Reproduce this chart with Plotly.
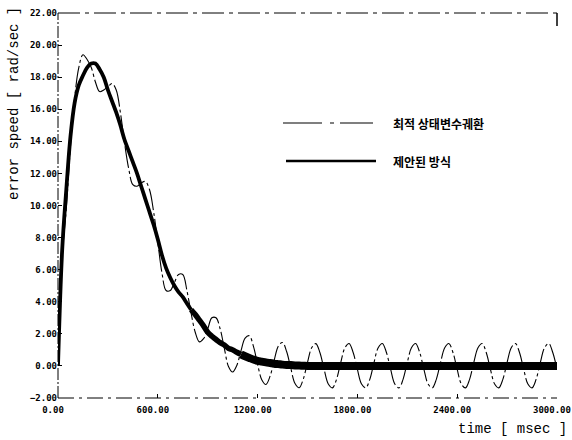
import plotly.graph_objects as go

# time axis (msec), 25 ms grid
time_ms = [i * 25 for i in range(121)]

# 제안된 방식 (proposed method) - smooth response
proposed = [
    0.0, 7.2, 11.0, 14.3, 16.4, 17.5, 18.1, 18.6, 18.85, 18.85,
    18.5, 18.0, 17.2, 16.5, 15.8, 15.0, 14.1, 13.4, 12.7, 12.0,
    11.2, 10.4, 9.6, 8.8, 7.9, 6.9, 6.1, 5.5, 5.0, 4.6,
    4.3, 3.9, 3.5, 3.2, 2.85, 2.5, 2.1, 1.85, 1.65, 1.45,
    1.3, 1.1, 1.0, 0.85, 0.72, 0.6, 0.5, 0.4, 0.32, 0.27,
    0.22, 0.18, 0.14, 0.11, 0.08, 0.06, 0.05, 0.03, 0.02, 0.01,
    0.0, 0.0, 0.0, 0.0, 0.0, 0.0, 0.0, 0.0, 0.0, 0.0,
    0.0, 0.0, 0.0, 0.0, 0.0, 0.0, 0.0, 0.0, 0.0, 0.0,
    0.0, 0.0, 0.0, 0.0, 0.0, 0.0, 0.0, 0.0, 0.0, 0.0,
    0.0, 0.0, 0.0, 0.0, 0.0, 0.0, 0.0, 0.0, 0.0, 0.0,
    0.0, 0.0, 0.0, 0.0, 0.0, 0.0, 0.0, 0.0, 0.0, 0.0,
    0.0, 0.0, 0.0, 0.0, 0.0, 0.0, 0.0, 0.0, 0.0, 0.0,
    0.0,
]

# 최적 상태변수궤환 (optimal state feedback) - oscillating response
optimal = [
    0.0, 6.8, 9.8, 13.7, 16.7, 18.6, 19.4, 19.1, 18.6, 17.7,
    17.1, 17.2, 17.4, 17.6, 17.2, 15.8, 13.9, 12.3, 11.3, 11.2,
    11.4, 11.5, 11.0, 9.6, 7.7, 5.8, 4.7, 4.7, 5.2, 5.7,
    5.7, 4.7, 3.3, 2.1, 1.5, 1.7, 2.3, 3.0, 3.0, 2.3,
    1.1, -0.03, -0.38, 0.03, 0.94, 1.73, 1.88, 1.22, 0.10, -0.86,
    -1.16, -0.64, 0.36, 1.24, 1.46, 0.88, -0.17, -1.10, -1.36, -0.81,
    0.22, 1.13, 1.39, 0.82, -0.22, -1.13, -1.37, -0.82, 0.22, 1.13,
    1.40, 0.82, -0.22, -1.13, -1.37, -0.82, 0.22, 1.13, 1.40, 0.82,
    -0.22, -1.13, -1.37, -0.82, 0.22, 1.13, 1.40, 0.82, -0.22, -1.13,
    -1.37, -0.82, 0.22, 1.13, 1.40, 0.82, -0.22, -1.13, -1.37, -0.82,
    0.22, 1.13, 1.40, 0.82, -0.22, -1.13, -1.37, -0.82, 0.22, 1.13,
    1.40, 0.82, -0.22, -1.13, -1.37, -0.82, 0.22, 1.13, 1.40, 0.82,
    -0.22,
]

x_ticks = [0, 600, 1200, 1800, 2400, 3000]
y_ticks = [-2, 0, 2, 4, 6, 8, 10, 12, 14, 16, 18, 20, 22]

legend_names = ["최적 상태변수궤환", "제안된 방식"]

fig = go.Figure()

# thin dash-dot oscillating curve
fig.add_trace(go.Scatter(
    x=time_ms, y=optimal, mode="lines",
    line=dict(color="black", width=1.1, shape="spline", dash="22px,3px,3px,3px"),
    showlegend=False, hoverinfo="skip"))

# thick proposed curve, split by thickness along the way
segments = [(0, 33, 3.8), (32, 45, 5.5), (44, 121, 8)]
for a, b, w in segments:
    fig.add_trace(go.Scatter(
        x=time_ms[a:b], y=proposed[a:b], mode="lines",
        line=dict(color="black", width=w, shape="spline"),
        showlegend=False, hoverinfo="skip"))

L, R, T, B = 58, 557, 13, 398
W, H = 572, 440
def px(p):
    return (p - L) / (R - L)
def py(p):
    return (B - p) / (B - T)

tick_font = dict(family="DejaVu Sans Mono", size=9, color="black", weight="bold")

fig.update_layout(
    width=W, height=H,
    margin=dict(l=L, r=W - R, t=T, b=H - B, autoexpand=False),
    paper_bgcolor="white", plot_bgcolor="white",
    xaxis=dict(range=[0, 3000], tickvals=x_ticks, tickformat=".2f",
               showgrid=False, zeroline=False, showline=False,
               ticks="inside", ticklen=4, tickcolor="black",
               ticklabelstandoff=5, ticklabelshift=-5, automargin=False,
               ticklabeloverflow="allow",
               tickfont=tick_font),
    yaxis=dict(range=[-2, 22], tickvals=y_ticks, tickformat=".2f",
               showgrid=False, zeroline=False, showline=False,
               ticks="inside", ticklen=4, tickcolor="black",
               automargin=False, ticklabeloverflow="allow",
               tickfont=tick_font),
    shapes=[
        dict(type="line", xref="paper", yref="paper", x0=0, x1=0, y0=0, y1=1,
             line=dict(color="black", width=1, dash="12px,2px,2px,2px")),
        dict(type="line", xref="paper", yref="paper", x0=0, x1=1, y0=0, y1=0,
             line=dict(color="black", width=1, dash="16px,5px,3px,5px")),
        dict(type="line", xref="paper", yref="paper", x0=0, x1=1, y0=1, y1=1,
             line=dict(color="black", width=1, dash="22px,5px,4px,5px")),
        dict(type="line", xref="paper", yref="paper", x0=1, x1=1, y0=1, y1=py(26),
             line=dict(color="black", width=1.5)),
        # legend samples
        dict(type="line", xref="paper", yref="paper", x0=px(283), x1=px(373),
             y0=py(123), y1=py(123),
             line=dict(color="black", width=1.2, dash="39px,8px,4px,6px")),
        dict(type="line", xref="paper", yref="paper", x0=px(286), x1=px(376),
             y0=py(161), y1=py(161),
             line=dict(color="black", width=2.5)),
    ],
    annotations=[
        dict(text=legend_names[0], xref="paper", yref="paper", x=px(391), y=py(123),
             xanchor="left", yanchor="middle", showarrow=False,
             font=dict(family="Noto Sans CJK KR", size=12, color="black", weight="bold")),
        dict(text=legend_names[1], xref="paper", yref="paper", x=px(391), y=py(161),
             xanchor="left", yanchor="middle", showarrow=False,
             font=dict(family="Noto Sans CJK KR", size=12, color="black", weight="bold")),
        dict(text="error speed [ rad/sec ]", xref="paper", yref="paper",
             x=px(14), y=py(104), xanchor="center", yanchor="middle",
             textangle=-90, showarrow=False,
             font=dict(family="Liberation Mono", size=14, color="black")),
        dict(text="time [ msec ]", xref="paper", yref="paper",
             x=px(512), y=py(429), xanchor="center", yanchor="middle",
             showarrow=False,
             font=dict(family="Liberation Mono", size=14, color="black")),
    ],
)

fig.write_html("out.html", post_script="document.body.style.margin='0px';",
               config={"displayModeBar": False})
